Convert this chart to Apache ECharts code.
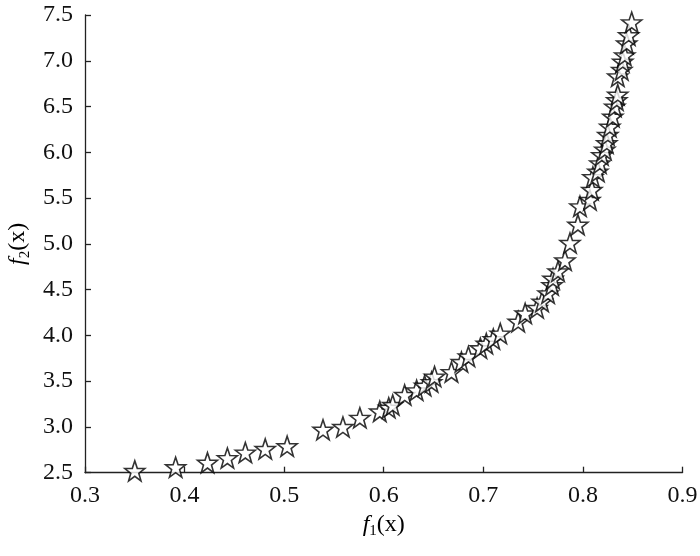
<!DOCTYPE html>
<html>
<head>
<meta charset="utf-8">
<script src="https://cdn.jsdelivr.net/npm/echarts@6/dist/echarts.min.js"></script>
<style>html,body{margin:0;padding:0;background:#fff;}#chart{width:700px;height:556px;}</style>
</head>
<body>
<div id="chart"></div>
<script>
const f1 = [0.350,0.391,0.423,0.443,0.461,0.481,0.503,0.539,0.559,0.576,0.596,0.605,0.609,0.621,0.633,0.641,0.648,0.651,0.668,0.678,0.685,0.697,0.703,0.710,0.717,0.735,0.742,0.754,0.759,0.765,0.769,0.770,0.775,0.782,0.787,0.795,0.797,0.807,0.809,0.810,0.815,0.817,0.819,0.822,0.824,0.825,0.827,0.830,0.832,0.834,0.835,0.835,0.839,0.840,0.842,0.844,0.846,0.849];
const f2 = [2.52,2.56,2.61,2.66,2.72,2.76,2.79,2.97,3.00,3.10,3.17,3.21,3.24,3.35,3.40,3.45,3.49,3.55,3.60,3.71,3.77,3.86,3.91,3.96,4.02,4.15,4.24,4.30,4.37,4.46,4.55,4.62,4.70,4.82,5.01,5.21,5.41,5.48,5.59,5.73,5.79,5.88,5.97,6.03,6.10,6.19,6.28,6.39,6.50,6.57,6.63,6.83,6.90,6.99,7.06,7.19,7.28,7.42];
const xTicks = [0.3,0.4,0.5,0.6,0.7,0.8,0.9];
const yTicks = [2.5,3.0,3.5,4.0,4.5,5.0,5.5,6.0,6.5,7.0,7.5];

// star symbol path
let pts = [];
for (let i = 0; i < 10; i++) {
  const a = -Math.PI/2 + i*Math.PI/5;
  const r = (i % 2 === 0) ? 50 : 20;
  pts.push((50 + r*Math.cos(a)).toFixed(2) + ' ' + (50 + r*Math.sin(a)).toFixed(2));
}
const starPath = 'path://M' + pts.join(' L') + ' Z';

const data = f1.map((v,i)=>[v, f2[i]]);
const FONT = '"Liberation Serif", "Times New Roman", serif';
const FS = 24;
const nameRich = {
  i:{fontStyle:'italic',fontFamily:FONT,fontSize:FS,color:'#000'},
  s:{fontFamily:FONT,fontSize:15,color:'#000',padding:[13,0,0,0]},
  n:{fontFamily:FONT,fontSize:FS,color:'#000'}
};
const chart = echarts.init(document.getElementById('chart'), null, {renderer:'canvas'});
chart.setOption({
  animation:false,
  backgroundColor:'#fff',
  grid:{left:85, right:17.5, top:15, bottom:83.3, containLabel:false, outerBoundsMode:'none'},
  xAxis:{
    type:'value', min:xTicks[0], max:xTicks[xTicks.length-1], interval:0.1,
    name:'{i|f}{s|1}{n|(x)}', nameLocation:'middle', nameGap:38,
    nameTextStyle:{fontFamily:FONT, fontSize:FS, color:'#000', rich:nameRich},
    axisLine:{lineStyle:{color:'#222',width:1.3}},
    axisTick:{inside:true,length:6,lineStyle:{color:'#222',width:1.3}},
    axisLabel:{fontFamily:FONT,fontSize:FS,color:'#111',margin:11,formatter:v=>v.toFixed(1)},
    splitLine:{show:false}
  },
  yAxis:{
    type:'value', min:yTicks[0], max:yTicks[yTicks.length-1], interval:0.5,
    name:'{i|f}{s|2}{n|(x)}', nameLocation:'middle', nameGap:50, nameRotate:90,
    nameTextStyle:{fontFamily:FONT, fontSize:FS, color:'#000', rich:nameRich},
    axisLine:{show:true,lineStyle:{color:'#222',width:1.3}},
    axisTick:{show:true,inside:true,length:6,lineStyle:{color:'#222',width:1.3}},
    axisLabel:{fontFamily:FONT,fontSize:FS,color:'#111',margin:12,formatter:v=>v.toFixed(1)},
    splitLine:{show:false}
  },
  series:[{
    type:'scatter', data:data, symbol:starPath, symbolSize:20,
    itemStyle:{color:'#fff', borderColor:'#000', borderWidth:1.6}
  }]
});
</script>
</body>
</html>
